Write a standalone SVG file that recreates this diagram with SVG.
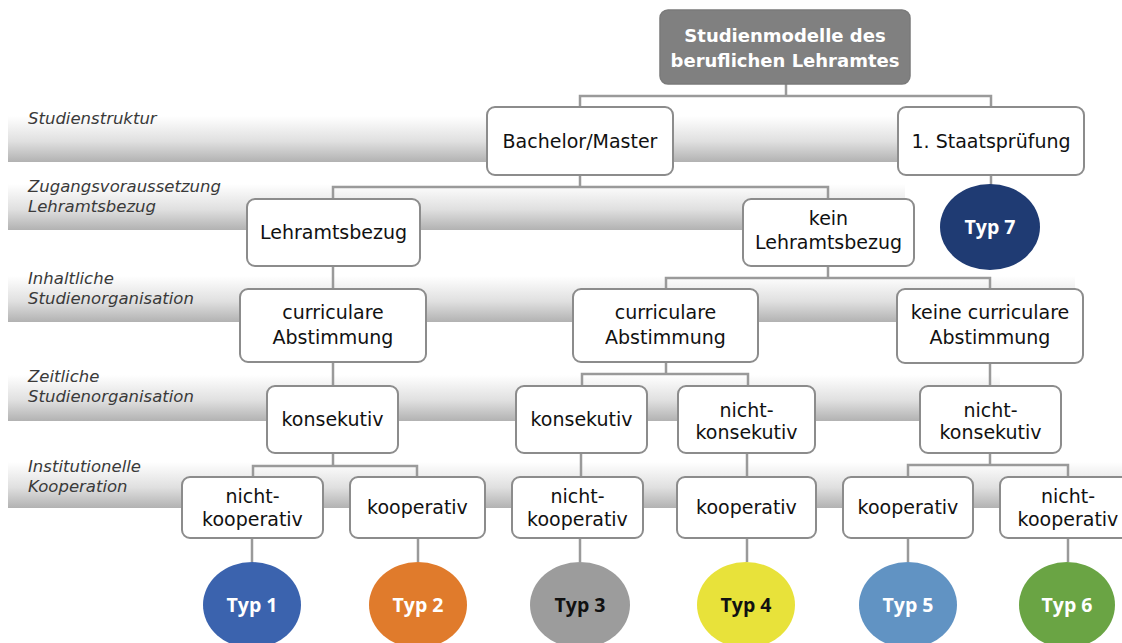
<svg xmlns="http://www.w3.org/2000/svg" width="1122" height="643" viewBox="0 0 1122 643">
<defs>
<linearGradient id="band" x1="0" y1="0" x2="0" y2="1">
<stop offset="0" stop-color="#ffffff"/>
<stop offset="0.55" stop-color="#e0e0e0"/>
<stop offset="1" stop-color="#b2b2b2"/>
</linearGradient>
<style>
.band{fill:url(#band);}
.lbl{font-family:"DejaVu Sans",sans-serif;font-style:italic;font-size:16.5px;fill:#3a3a3a;}
.box{fill:#ffffff;stroke:#8c8c8c;stroke-width:2;}
.root{fill:#808080;stroke:#7a7a7a;stroke-width:1.5;}
.t{font-family:"DejaVu Sans",sans-serif;font-size:19px;fill:#111111;text-anchor:middle;}
.rt{font-family:"DejaVu Sans",sans-serif;font-size:18px;font-weight:bold;fill:#ffffff;text-anchor:middle;}
.typ{font-family:"Open Sans","Liberation Sans",sans-serif;font-size:19.5px;font-weight:bold;text-anchor:middle;}
.w{fill:#ffffff;}
.k{fill:#111111;}
.con{fill:none;stroke:#9a9a9a;stroke-width:2.5;}
</style>
</defs>
<rect width="1122" height="643" fill="#ffffff"/>
<g id="bands">
<rect class="band" x="8" y="116" width="1052" height="46"/>
<rect class="band" x="8" y="184" width="897" height="46"/>
<rect class="band" x="8" y="276" width="1067" height="46"/>
<rect class="band" x="8" y="375" width="992" height="46"/>
<rect class="band" x="8" y="462" width="1114" height="46"/>
<text class="lbl" x="28" y="124">Studienstruktur</text>
<text class="lbl" x="28" y="192">Zugangsvoraussetzung</text>
<text class="lbl" x="28" y="212">Lehramtsbezug</text>
<text class="lbl" x="28" y="284">Inhaltliche</text>
<text class="lbl" x="28" y="304">Studienorganisation</text>
<text class="lbl" x="28" y="382">Zeitliche</text>
<text class="lbl" x="28" y="402">Studienorganisation</text>
<text class="lbl" x="28" y="472">Institutionelle</text>
<text class="lbl" x="28" y="492">Kooperation</text>
</g>
<g id="connectors">
<path class="con" d="M786 84V96M580 107V96H991V107"/>
<path class="con" d="M580 175V187M333 199V187H828V199"/>
<path class="con" d="M991 175V186"/>
<path class="con" d="M333 266V289"/>
<path class="con" d="M828 266V278M666 289V278H990V289"/>
<path class="con" d="M333 362V386"/>
<path class="con" d="M666 362V374M582 386V374H748V386"/>
<path class="con" d="M990 363V386"/>
<path class="con" d="M333 453V466M253 477V466H417V477"/>
<path class="con" d="M581 453V477"/>
<path class="con" d="M747 453V477"/>
<path class="con" d="M990 453V465M908 477V465H1068V477"/>
<path class="con" d="M252 538V562M418 538V562M580 538V562M747 538V562M908 538V562M1068 538V562"/>
</g>
<g id="root">
<rect class="root" x="660" y="10" width="250" height="74" rx="8"/>
<text class="rt" x="785" y="42">Studienmodelle des</text>
<text class="rt" x="785" y="67">beruflichen Lehramtes</text>
</g>
<g id="bachelor">
<rect class="box" x="487" y="107" width="186" height="68" rx="8"/>
<text class="t" x="580" y="147.5">Bachelor/Master</text>
</g>
<g id="staatspruefung">
<rect class="box" x="898" y="107" width="186" height="68" rx="8"/>
<text class="t" x="991" y="147.5">1. Staatsprüfung</text>
</g>
<g id="lehramtsbezug">
<rect class="box" x="247" y="199" width="173" height="67" rx="8"/>
<text class="t" x="333.5" y="239">Lehramtsbezug</text>
</g>
<g id="kein-lehramtsbezug">
<rect class="box" x="743" y="199" width="171" height="67" rx="8"/>
<text class="t" x="828.5" y="225">kein</text>
<text class="t" x="828.5" y="249">Lehramtsbezug</text>
</g>
<g id="typ7">
<ellipse cx="990" cy="227" rx="50" ry="43" fill="#1f3b73"/>
<text class="typ w" x="990" y="234">Typ 7</text>
</g>
<g id="curricular1">
<rect class="box" x="240" y="289" width="186" height="73" rx="8"/>
<text class="t" x="333" y="319">curriculare</text>
<text class="t" x="333" y="344">Abstimmung</text>
</g>
<g id="curricular2">
<rect class="box" x="573" y="289" width="185" height="73" rx="8"/>
<text class="t" x="665.5" y="319">curriculare</text>
<text class="t" x="665.5" y="344">Abstimmung</text>
</g>
<g id="keine-curricular">
<rect class="box" x="897" y="289" width="186" height="74" rx="8"/>
<text class="t" x="990" y="319">keine curriculare</text>
<text class="t" x="990" y="344">Abstimmung</text>
</g>
<g id="konsekutiv1">
<rect class="box" x="267" y="386" width="131" height="67" rx="8"/>
<text class="t" x="332.5" y="425.5">konsekutiv</text>
</g>
<g id="konsekutiv2">
<rect class="box" x="516" y="386" width="131" height="67" rx="8"/>
<text class="t" x="581.5" y="425.5">konsekutiv</text>
</g>
<g id="nicht-konsekutiv2">
<rect class="box" x="678" y="386" width="137" height="67" rx="8"/>
<text class="t" x="746.5" y="416.5">nicht-</text>
<text class="t" x="746.5" y="439">konsekutiv</text>
</g>
<g id="nicht-konsekutiv3">
<rect class="box" x="920" y="386" width="141" height="67" rx="8"/>
<text class="t" x="990.5" y="416.5">nicht-</text>
<text class="t" x="990.5" y="439">konsekutiv</text>
</g>
<g id="nicht-kooperativ1">
<rect class="box" x="182" y="477" width="141" height="61" rx="8"/>
<text class="t" x="252.5" y="503">nicht-</text>
<text class="t" x="252.5" y="525.5">kooperativ</text>
</g>
<g id="kooperativ2">
<rect class="box" x="350" y="477" width="135" height="61" rx="8"/>
<text class="t" x="417.5" y="514">kooperativ</text>
</g>
<g id="nicht-kooperativ3">
<rect class="box" x="512" y="477" width="131" height="61" rx="8"/>
<text class="t" x="577.5" y="503">nicht-</text>
<text class="t" x="577.5" y="525.5">kooperativ</text>
</g>
<g id="kooperativ4">
<rect class="box" x="677" y="477" width="139" height="61" rx="8"/>
<text class="t" x="746.5" y="514">kooperativ</text>
</g>
<g id="kooperativ5">
<rect class="box" x="843" y="477" width="130" height="61" rx="8"/>
<text class="t" x="908" y="514">kooperativ</text>
</g>
<g id="nicht-kooperativ6">
<rect class="box" x="1000" y="477" width="136" height="61" rx="8"/>
<text class="t" x="1068" y="503">nicht-</text>
<text class="t" x="1068" y="525.5">kooperativ</text>
</g>
<g id="typ1">
<ellipse cx="252" cy="605" rx="49" ry="43" fill="#3b63ae"/>
<text class="typ w" x="252" y="612">Typ 1</text>
</g>
<g id="typ2">
<ellipse cx="418" cy="605" rx="49" ry="43" fill="#e07b2c"/>
<text class="typ w" x="418" y="612">Typ 2</text>
</g>
<g id="typ3">
<ellipse cx="580" cy="605" rx="50" ry="43" fill="#9c9c9c"/>
<text class="typ k" x="580" y="612">Typ 3</text>
</g>
<g id="typ4">
<ellipse cx="746" cy="605" rx="49" ry="43" fill="#e8e23a"/>
<text class="typ k" x="746" y="612">Typ 4</text>
</g>
<g id="typ5">
<ellipse cx="908" cy="605" rx="49" ry="43" fill="#6193c3"/>
<text class="typ w" x="908" y="612">Typ 5</text>
</g>
<g id="typ6">
<ellipse cx="1067" cy="605" rx="48" ry="43" fill="#6aa444"/>
<text class="typ w" x="1067" y="612">Typ 6</text>
</g>
</svg>
